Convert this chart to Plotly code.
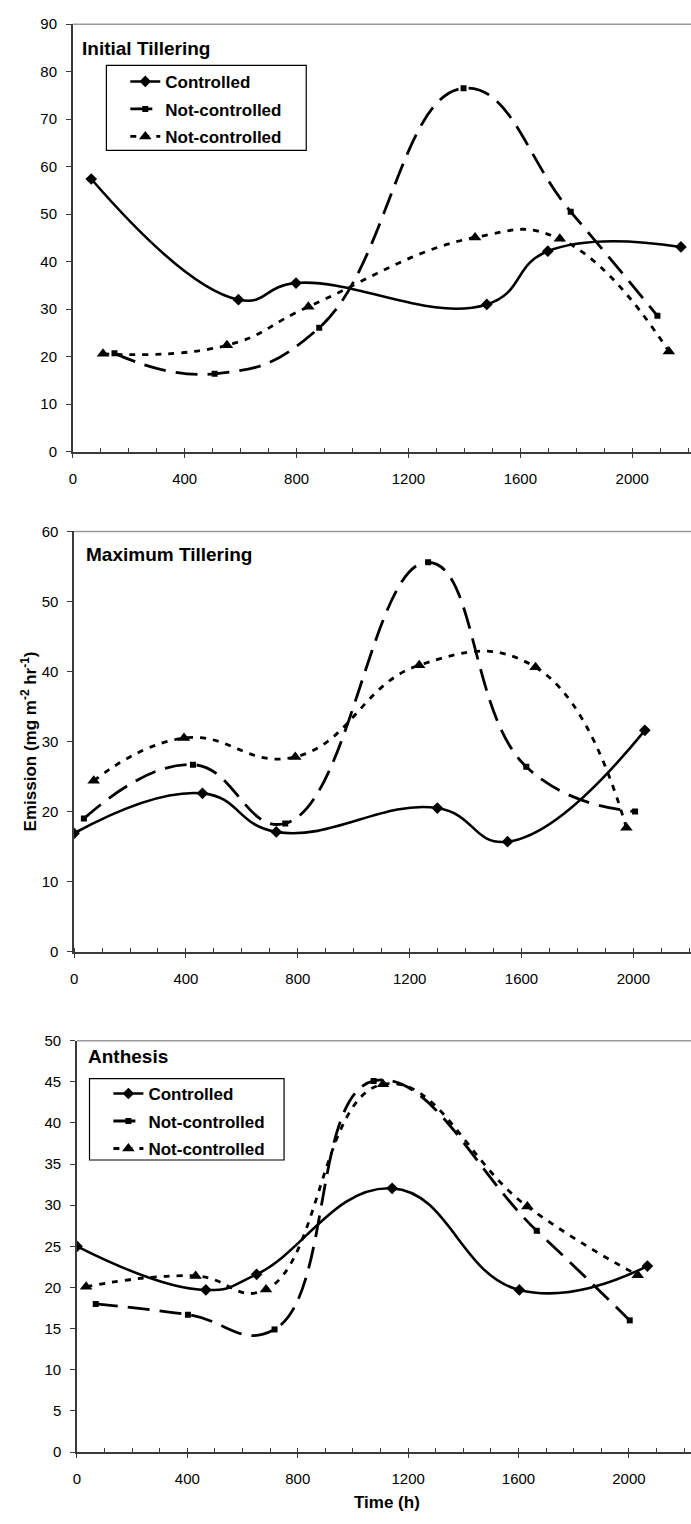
import plotly.graph_objects as go

# ---- data: emission (mg m-2 hr-1) vs time (h) ----
# Initial Tillering
it_ctrl_t = [66, 592, 798, 1480, 1698, 2174]
it_ctrl_v = [57.4, 32.0, 35.5, 31.0, 42.2, 43.1]
it_nc1_t = [149, 507, 881, 1397, 1780, 2090]
it_nc1_v = [20.7, 16.4, 26.1, 76.5, 50.5, 28.6]
it_nc2_t = [108, 551, 842, 1438, 1741, 2131]
it_nc2_v = [20.6, 22.4, 30.5, 45.1, 44.8, 21.1]

# Maximum Tillering
mt_ctrl_t = [0, 459, 723, 1299, 1550, 2041]
mt_ctrl_v = [16.9, 22.6, 17.1, 20.5, 15.7, 31.6]
mt_nc1_t = [35, 425, 755, 1266, 1617, 2006]
mt_nc1_v = [19.0, 26.7, 18.3, 55.6, 26.4, 20.0]
mt_nc2_t = [70, 393, 791, 1234, 1650, 1975]
mt_nc2_v = [24.4, 30.5, 27.8, 40.9, 40.6, 17.7]

# Anthesis
an_ctrl_t = [0, 467, 651, 1142, 1603, 2067]
an_ctrl_v = [25.0, 19.7, 21.6, 32.05, 19.7, 22.6]
an_nc1_t = [68, 402, 716, 1075, 1666, 2003]
an_nc1_v = [18.0, 16.7, 14.9, 45.1, 26.9, 16.0]
an_nc2_t = [33, 430, 685, 1109, 1632, 2032]
an_nc2_v = [20.1, 21.4, 19.75, 44.7, 29.85, 21.5]

panel_titles = ["Initial Tillering", "Maximum Tillering", "Anthesis"]
series_names = ["Controlled", "Not-controlled", "Not-controlled"]
y_max = [90, 60, 50]
y_step = [10, 10, 5]
x_ticks = [0, 400, 800, 1200, 1600, 2000]

W, H = 691, 1524
FONT = "Liberation Sans, Arial, sans-serif"
AXIS_COL = "#3a3a3a"


def px(x):
    return x / W


def py(y):
    return 1 - y / H


# plot-area geometry in pixels: left, top, bottom, x-range end
panels = [
    dict(left=69.2, top=15.3, bottom=447.7, xend=2210),
    dict(left=70.5, top=528.3, bottom=953.3, xend=2206),
    dict(left=73.4, top=1043.3, bottom=1459.3, xend=2225),
]

data = [
    [(it_ctrl_t, it_ctrl_v), (it_nc1_t, it_nc1_v), (it_nc2_t, it_nc2_v)],
    [(mt_ctrl_t, mt_ctrl_v), (mt_nc1_t, mt_nc1_v), (mt_nc2_t, mt_nc2_v)],
    [(an_ctrl_t, an_ctrl_v), (an_nc1_t, an_nc1_v), (an_nc2_t, an_nc2_v)],
]

styles = [
    dict(line=dict(color="black", width=2.6, dash="solid"),
         marker=dict(symbol="diamond", size=9, color="black")),
    dict(line=dict(color="black", width=2.8, dash="22px,10px"),
         marker=dict(symbol="square", size=6, color="black")),
    dict(line=dict(color="black", width=2.8, dash="6px,7px"),
         marker=dict(symbol="triangle-up", size=11, color="black")),
]

legend_of_panel = {0: "legend", 2: "legend2"}

fig = go.Figure()

for p, series in enumerate(data):
    sfx = "" if p == 0 else str(p + 1)
    for s, (t, v) in enumerate(series):
        fig.add_trace(go.Scatter(
            x=t, y=v, name=series_names[s],
            mode="lines+markers",
            line=dict(shape="spline", smoothing=1.3, **styles[s]["line"]),
            marker=styles[s]["marker"],
            xaxis="x" + sfx, yaxis="y" + sfx,
            showlegend=p in legend_of_panel,
            legend=legend_of_panel.get(p, "legend"),
            legendgroup=f"p{p}s{s}",
        ))

layout = dict(
    width=W, height=H,
    margin=dict(l=0, r=0, t=0, b=0),
    paper_bgcolor="white", plot_bgcolor="white",
    font=dict(family=FONT, color="black", size=15),
    shapes=[], annotations=[],
)

for p, g in enumerate(panels):
    sfx = "" if p == 0 else str(p + 1)
    layout["xaxis" + sfx] = dict(
        domain=[px(g["left"]), 1.0], range=[0, g["xend"]],
        anchor="y" + sfx,
        tickvals=x_ticks, ticks="outside", ticklen=4, tickwidth=1.3,
        tickcolor=AXIS_COL,
        minor=dict(dtick=100, tick0=0, ticks="inside", ticklen=4,
                   tickwidth=1.1, tickcolor=AXIS_COL, showgrid=False),
        showline=True, linecolor=AXIS_COL, linewidth=2,
        showgrid=False, zeroline=False,
        ticklabelstandoff=8,
        tickfont=dict(size=15, color="black"),
    )
    layout["yaxis" + sfx] = dict(
        domain=[py(g["bottom"]), py(g["top"])],
        range=[0, y_max[p]], dtick=y_step[p], tick0=0,
        anchor="x" + sfx,
        ticks="outside", ticklen=5, tickwidth=1.3, tickcolor=AXIS_COL,
        showline=True, linecolor=AXIS_COL, linewidth=1.5,
        showgrid=False, zeroline=False,
        ticklabelstandoff=6,
        tickfont=dict(size=15, color="black"),
    )
    # light frame line along the top of each panel
    layout["shapes"].append(dict(
        type="line", xref="paper", yref="paper",
        x0=px(g["left"]), x1=1.0, y0=py(g["top"]), y1=py(g["top"]),
        line=dict(color="#9a9a9a", width=1.5),
    ))

# panel titles
title_pos = [(76, 40), (80.6, 551.7), (82.4, 1059.3)]
for (tx, ty), txt in zip(title_pos, panel_titles):
    layout["annotations"].append(dict(
        text=txt, xref="paper", yref="paper", x=px(tx), y=py(ty),
        xanchor="left", yanchor="middle", showarrow=False,
        font=dict(size=19, weight="bold", color="black"),
    ))

# axis titles
layout["annotations"].append(dict(
    text="Emission (mg m<sup>-2</sup> hr<sup>-1</sup>)",
    xref="paper", yref="paper", x=px(25), y=py(740.8),
    xanchor="center", yanchor="middle", textangle=-90, showarrow=False,
    font=dict(size=17, weight="bold", color="black"),
))
layout["annotations"].append(dict(
    text="Time (h)", xref="paper", yref="paper", x=px(385), y=py(1510),
    xanchor="center", yanchor="middle", showarrow=False,
    font=dict(size=17, weight="bold", color="black"),
))

# legend boxes
for (x0, y0, x1, y1) in [(103, 57, 304, 143), (86, 1081.7, 281.7, 1164)]:
    layout["shapes"].append(dict(
        type="rect", xref="paper", yref="paper",
        x0=px(x0), x1=px(x1), y0=py(y0), y1=py(y1),
        line=dict(color="black", width=1.2), fillcolor="rgba(0,0,0,0)",
    ))

legend_common = dict(
    xanchor="left", yanchor="top", bgcolor="rgba(0,0,0,0)",
    borderwidth=0, traceorder="grouped", tracegroupgap=2.4,
    font=dict(size=17, weight="bold", color="black", family=FONT),
    itemclick=False, itemdoubleclick=False,
)
layout["legend"] = dict(x=px(122), y=py(55.5), **legend_common)
layout["legend2"] = dict(x=px(105), y=py(1079), **legend_common)

fig.update_layout(**layout)
fig.write_html("out.html")
